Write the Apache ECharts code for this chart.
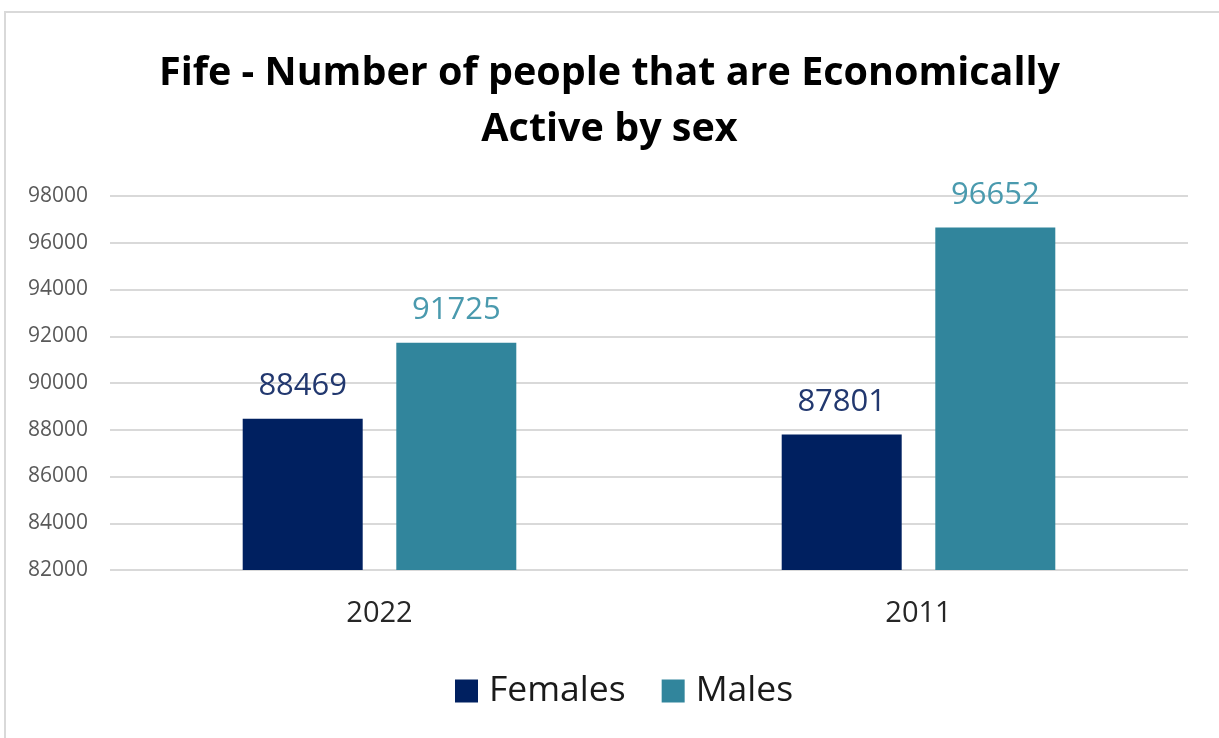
<!DOCTYPE html>
<html>
<head>
<meta charset="utf-8">
<script src="https://cdn.jsdelivr.net/npm/echarts@6/dist/echarts.min.js"></script>
<style>
  html, body { margin: 0; padding: 0; background: #ffffff; }
  #chart { width: 1219px; height: 738px; }
</style>
</head>
<body>
<div id="chart"></div>
<script>
// Economically active people in Fife, by census year and sex
const years = ['2022', '2011'];
const females = [88469, 87801];
const males = [91725, 96652];
const yTicks = { min: 82000, max: 98000, step: 2000 };

const chart = echarts.init(document.getElementById('chart'), null, { renderer: 'canvas' });

const FONT = '"Open Sans", "Noto Sans", sans-serif';

chart.setOption({
  backgroundColor: '#ffffff',
  animation: false,
  graphic: [{
    type: 'rect',
    shape: { x: 5, y: 12, width: 1300, height: 800 },
    style: { fill: 'none', stroke: '#d9d9d9', lineWidth: 2 },
    silent: true
  }],
  title: {
    text: 'Fife - Number of people that are Economically\nActive by sex',
    left: 'center',
    top: 41,
    textStyle: {
      fontFamily: FONT,
      fontWeight: 'bold',
      fontSize: 39.5,
      lineHeight: 56,
      color: '#000000'
    }
  },
  legend: {
    bottom: 24,
    left: 450,
    itemWidth: 23,
    itemHeight: 23,
    itemGap: 36,
    icon: 'rect',
    textStyle: { fontFamily: FONT, fontSize: 35.5, color: '#1a1a1a', padding: [0, 0, 0, 6] },
    data: ['Females', 'Males']
  },
  grid: { left: 110, right: 31, top: 196, bottom: 168 },
  xAxis: {
    type: 'category',
    data: years,
    axisLine: { show: false },
    axisTick: { show: false },
    axisLabel: { fontFamily: FONT, fontSize: 29, color: '#262626', margin: 29 }
  },
  yAxis: {
    type: 'value',
    min: yTicks.min,
    max: yTicks.max,
    interval: yTicks.step,
    axisLine: { show: false },
    axisTick: { show: false },
    axisLabel: {
      fontFamily: FONT,
      fontSize: 21,
      color: '#595959',
      margin: 22,
      formatter: (v) => String(v)
    },
    splitLine: { lineStyle: { color: '#d9d9d9', width: 2 } }
  },
  series: [
    {
      name: 'Females',
      type: 'bar',
      data: females,
      barWidth: 120,
      barGap: '28%',
      itemStyle: { color: '#002060' },
      label: {
        show: true,
        position: 'top',
        distance: 17,
        fontFamily: FONT,
        fontSize: 31,
        color: '#22386f'
      }
    },
    {
      name: 'Males',
      type: 'bar',
      data: males,
      barWidth: 120,
      barGap: '28%',
      itemStyle: { color: '#31859c' },
      label: {
        show: true,
        position: 'top',
        distance: 17,
        fontFamily: FONT,
        fontSize: 31,
        color: '#4a9aae'
      }
    }
  ]
});
</script>
</body>
</html>
